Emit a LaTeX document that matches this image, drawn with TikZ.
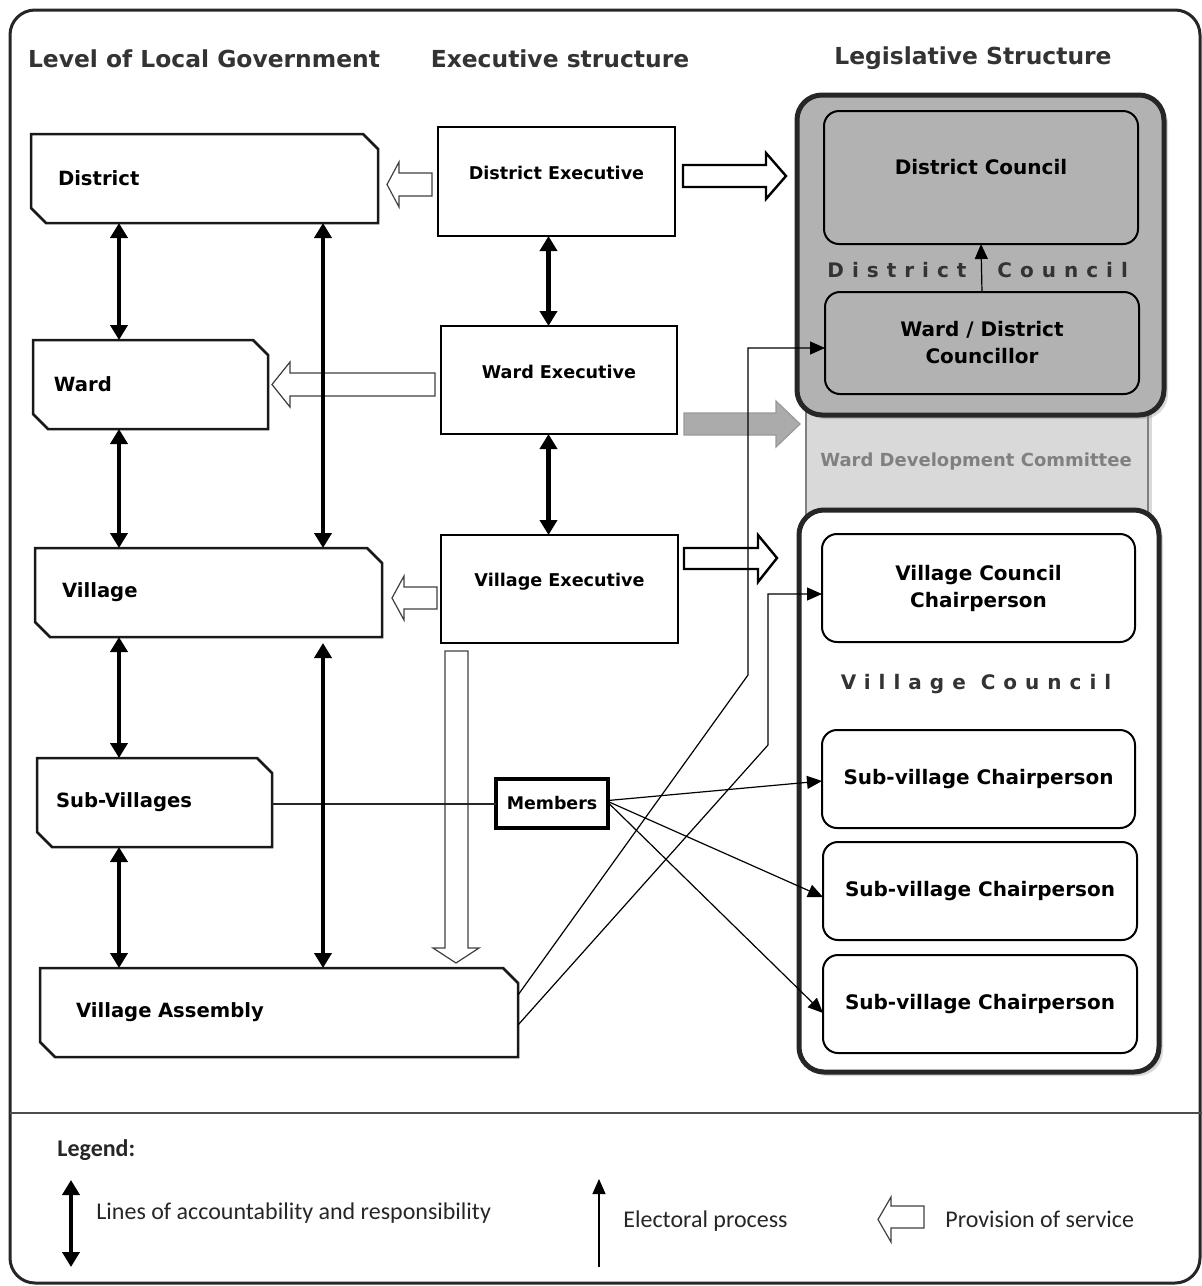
\documentclass[tikz,border=0pt]{standalone}
\usepackage{fontspec}
\setmainfont{DejaVu Sans}
\newfontfamily\legendfont{Carlito}
\usetikzlibrary{arrows.meta,shadows}
\newcommand\cutoutline[1]{\draw[cutline] (#1.north west) -- ([xshift=-7.5pt]#1.north east) -- ([yshift=-7.5pt]#1.north east) -- (#1.south east) -- ([xshift=7.5pt]#1.south west) -- ([yshift=7.5pt]#1.south west) -- cycle;}
\begin{document}
\begin{tikzpicture}[x=0.5pt,y=-0.5pt,
  hdr/.style={font=\fontsize{11.7pt}{14pt}\selectfont\bfseries, text=black!80, inner sep=0pt},
  lgov/.style={outer sep=0pt, inner ysep=0pt, minimum height=44.5pt, align=left, font=\fontsize{9.8pt}{12pt}\selectfont\bfseries},
  cutline/.style={line width=1.25pt, black!90, line join=miter},
  exbox/.style={draw, line width=1.2pt, outer sep=0pt, inner sep=0pt, minimum width=118.5pt, minimum height=54.5pt},
  extxt/.style={font=\fontsize{8.8pt}{11pt}\selectfont\bfseries, inner sep=0pt},
  legbox/.style={draw, rounded corners=7.5pt, line width=1pt, outer sep=0pt, inner sep=0pt, align=center, font=\fontsize{10pt}{13.5pt}\selectfont\bfseries, minimum width=157pt},
  bigbox/.style={draw=black!85, line width=2.5pt, rounded corners=12.5pt, outer sep=0pt, inner sep=0pt, drop shadow={shadow xshift=2pt, shadow yshift=-2pt, opacity=0.3}},
  spaced/.style={font=\fontsize{10pt}{12pt}\selectfont\bfseries\addfontfeature{LetterSpace=40}, text=black!80, inner sep=0pt},
  acc/.style={line width=2.1pt, {Triangle[width=8.5pt,length=7.5pt]}-{Triangle[width=8.5pt,length=7.5pt]}},
  elect/.style={line width=0.6pt, -{Triangle[width=6.5pt,length=7.5pt]}},
  thinline/.style={line width=0.6pt, black!85},
  serv/.style={draw=black!75, line width=0.6pt, fill=white, line join=miter},
  servbig/.style={draw=black, line width=1.2pt, fill=white, line join=miter},
  servgray/.style={draw=black!40, line width=0.6pt, fill=black!33, line join=miter},
  legtxt/.style={font=\fontsize{12pt}{14pt}\selectfont\legendfont, text=black!85, inner sep=0pt, anchor=west}
]
\useasboundingbox (0,0) rectangle (1202,1286);
% frame
\draw[line width=1.5pt, rounded corners=12.5pt, black!85] (10,10) rectangle (1200,1283);
\draw[line width=1pt, black!70] (10,1113) -- (1202,1113);

% headers
\node[hdr] (h1) at (204,59) {Level of Local Government};
\node[hdr] (h2) at (560,59) {Executive structure};
\node[hdr] (h3) at (973,58) {Legislative Structure};

% legislative structure
\node[draw=black!50, line width=1.25pt, fill=black!15, minimum width=171pt, minimum height=67.5pt, outer sep=0pt, drop shadow={shadow xshift=2pt, shadow yshift=-2pt, opacity=0.3}] (wdcband) at (977,457.5) {};
\node[bigbox, fill=black!30, minimum width=183.5pt, minimum height=160pt] (dco) at (980.5,255) {};
\node[bigbox, fill=white, minimum width=180pt, minimum height=281pt] (vco) at (979,791) {};
\node[font=\fontsize{9pt}{11pt}\selectfont\bfseries, text=black!50, inner sep=0pt] (wdct) at (976,462) {Ward Development Committee};

\node[legbox, fill=black!30, minimum height=66.5pt, label={[legbox, draw=none, rounded corners=0pt, minimum width=0pt, yshift=5.25pt]center:District Council}] (dc) at (981,177.5) {};
\node[legbox, fill=black!30, minimum height=51pt] (wd) at (982,343) {Ward / District\\Councillor};
\node[spaced, anchor=west] (dcl1) at (827,270) {District};
\node[spaced, anchor=west] (dcl2) at (997,270) {Council};
\draw[elect] (wd.north) -- (dc.south);

\node[legbox, fill=white, minimum width=156.5pt, minimum height=54pt] (vcc) at (978.5,588) {Village Council\\Chairperson};
\node[spaced] (vcl) at (976,684) {Village Council};
\node[legbox, fill=white, minimum width=156.5pt, minimum height=49pt] (svc1) at (978.5,779) {Sub-village Chairperson};
\node[legbox, fill=white, minimum height=49pt] (svc2) at (980,891) {Sub-village Chairperson};
\node[legbox, fill=white, minimum height=49pt] (svc3) at (980,1004) {Sub-village Chairperson};

% level of local government
\node[lgov, inner xsep=13.5pt, text width=146.5pt] (dist) at (204.5,178.5) {District};
\node[lgov, inner xsep=10.5pt, text width=96.5pt] (ward) at (150.5,384.5) {Ward};
\node[lgov, inner xsep=13.5pt, text width=146.5pt] (vill) at (208.5,592.5) {Village};
\node[lgov, inner xsep=9.5pt, text width=98.5pt] (subv) at (154.5,802.5) {Sub-Villages};
\node[lgov, inner xsep=18pt, text width=203pt] (va) at (279,1012.5) {Village Assembly};
\cutoutline{dist}
\cutoutline{ward}
\cutoutline{vill}
\cutoutline{subv}
\cutoutline{va}

% executive structure
\node[exbox, label={[extxt, yshift=4.25pt]center:District Executive}] (dex) at (556.5,181.5) {};
\node[exbox, minimum width=118pt, minimum height=54pt, label={[extxt, yshift=4pt]center:Ward Executive}] (wex) at (559,380) {};
\node[exbox, minimum height=54pt, label={[extxt, yshift=3.5pt]center:Village Executive}] (vex) at (559.5,589) {};
\node[draw, line width=1.6pt, minimum width=56pt, minimum height=24.5pt, inner sep=0pt, outer sep=0pt, font=\fontsize{8.7pt}{10pt}\selectfont\bfseries] (mem) at (552,803.5) {Members};

% provision of service (block arrows)
\draw[serv] (432,173) -- (399,173) -- (399,162) -- (387,184.5) -- (399,207) -- (399,196) -- (432,196) -- cycle;
\draw[serv] (435,373) -- (290,373) -- (290,362) -- (272,384.5) -- (290,407) -- (290,396) -- (435,396) -- cycle;
\draw[serv] (437,587) -- (404,587) -- (404,576) -- (392,598) -- (404,620) -- (404,609) -- (437,609) -- cycle;
\draw[serv] (445,651) -- (445,948) -- (433,948) -- (456,963) -- (479,948) -- (468,948) -- (468,651) -- cycle;
\draw[servbig] (683,165) -- (766,165) -- (766,153) -- (786,176) -- (766,199) -- (766,187) -- (683,187) -- cycle;
\draw[servgray] (684,413) -- (776,413) -- (776,401) -- (800,424) -- (776,447) -- (776,435) -- (684,435) -- cycle;
\draw[servbig] (684,548) -- (758,548) -- (758,535) -- (777,558) -- (758,582) -- (758,569) -- (684,569) -- cycle;

% electoral process
\coordinate (k1) at (748,675);
\coordinate (k2) at (768,745);
\draw[thinline] ([yshift=-0.75pt]subv.east) -- ([yshift=-0.75pt]subv.east -| mem.west);
\draw[elect] ([yshift=8.75pt]va.east) -- (k1) |- ([yshift=-2.5pt]wd.west);
\draw[elect] ([yshift=-6.25pt]va.east) -- (k2) |- ([yshift=-3pt]vcc.west);
\draw[elect] ([yshift=1.5pt]mem.east) -- ([yshift=-1pt]svc1.west);
\draw[elect] ([yshift=1pt]mem.east) -- ([yshift=-3pt]svc2.west);
\draw[elect] ([yshift=0.5pt]mem.east) -- ([yshift=-4.5pt]svc3.west);

% accountability
\coordinate (cA) at (119,0);
\coordinate (cB) at (323,0);
\coordinate (cC) at (548.5,0);
\draw[acc] (dist.south -| cA) -- (ward.north -| cA);
\draw[acc] (ward.south -| cA) -- (vill.north -| cA);
\draw[acc] (vill.south -| cA) -- (subv.north -| cA);
\draw[acc] (subv.south -| cA) -- (va.north -| cA);
\draw[acc] (dist.south -| cB) -- (vill.north -| cB);
\draw[acc, shorten <=3pt] (vill.south -| cB) -- (va.north -| cB);
\draw[acc] (dex.south -| cC) -- (wex.north -| cC);
\draw[acc] (wex.south -| cC) -- (vex.north -| cC);

% legend
\node[legtxt, font=\fontsize{12pt}{14pt}\selectfont\legendfont\bfseries] (lg) at (57,1150) {Legend:};
\coordinate (la1) at (71,1180);
\coordinate (la2) at (71,1267);
\draw[acc] (la1) -- (la2);
\node[legtxt] (lt1) at (96,1213) {Lines of accountability and responsibility};
\coordinate (le1) at (599,1267);
\coordinate (le2) at (599,1179);
\draw[elect] (le1) -- (le2);
\node[legtxt] (lt2) at (623,1221) {Electoral process};
\draw[serv] (924,1206) -- (891,1206) -- (891,1197) -- (878,1219.5) -- (891,1242) -- (891,1228) -- (924,1228) -- cycle;
\node[legtxt] (lt3) at (945,1219) {Provision of service};
\end{tikzpicture}
\end{document}
